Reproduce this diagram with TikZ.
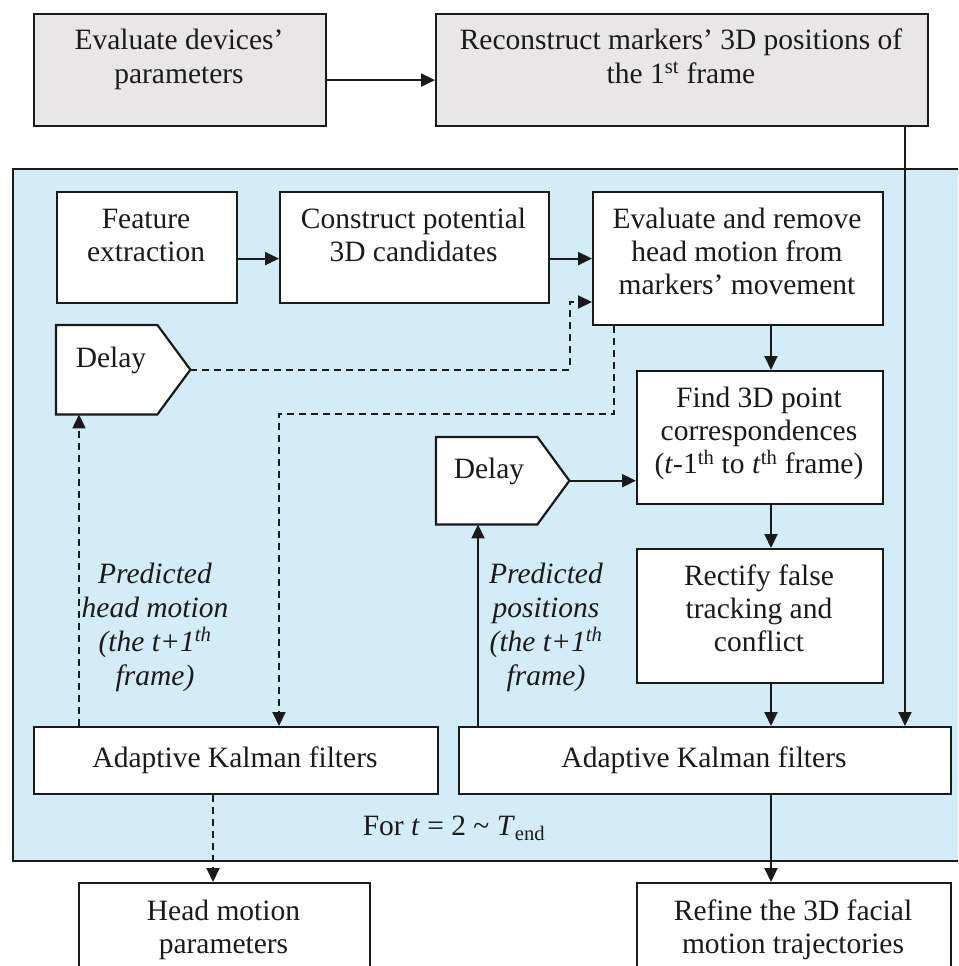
\documentclass[tikz,border=0pt]{standalone}
\usepackage{fontspec}
\setmainfont{Liberation Serif}
\usetikzlibrary{arrows.meta}
\definecolor{grayfill}{HTML}{E8E6E6}
\definecolor{bluefill}{HTML}{D4ECF8}
\definecolor{ink}{HTML}{1A1A1A}
\newcommand{\mlines}[1]{\begin{tabular}[t]{@{}c@{}}#1\end{tabular}}
\begin{document}
\begin{tikzpicture}[x=1pt,y=-1pt,
  box/.style={draw=ink, line width=2.2pt, fill=white, rectangle, inner sep=0pt, anchor=north west},
  graybox/.style={box, fill=grayfill},
  frame/.style={rectangle, inner sep=0pt, anchor=north west},
  txt/.style={anchor=base, inner sep=0pt, text=ink, font=\fontsize{29.5}{33}\selectfont},
  lbl/.style={anchor=base, inner sep=0pt, text=ink, font=\fontsize{29.5}{34}\selectfont\itshape},
  arr/.style={draw=ink, line width=2pt, -{Triangle[length=14pt,width=13pt]}},
  darr/.style={arr, dash pattern=on 7pt off 5pt},
  pent/.style={draw=ink, line width=2.2pt, fill=white, line join=miter}]
\useasboundingbox (0,0) rectangle (958,966);
\clip (0,0) rectangle (958,966);

% loop container
\node[frame, draw=ink, line width=2.2pt, fill=bluefill, minimum width=970pt, minimum height=692pt] (loop) at (12,168) {};

% boxes
\node[graybox, minimum width=292pt, minimum height=112pt] (b1) at (33,13) {};
\node[graybox, minimum width=492pt, minimum height=112pt] (b2) at (435,13) {};
\node[box, minimum width=180pt, minimum height=111pt] (feat) at (56,191) {};
\node[box, minimum width=269pt, minimum height=111pt] (cons) at (279,191) {};
\node[box, minimum width=290pt, minimum height=133pt] (eval) at (592,191) {};
\node[box, minimum width=246pt, minimum height=133pt] (find) at (636,370) {};
\node[box, minimum width=246pt, minimum height=134pt] (rect) at (636,548) {};
\node[box, minimum width=404pt, minimum height=67pt] (kal1) at (33,726) {};
\node[box, minimum width=492pt, minimum height=67pt] (kal2) at (458,726) {};
\node[box, minimum width=291pt, minimum height=140pt] (head) at (78,882) {};
\node[box, minimum width=314pt, minimum height=140pt] (refine) at (636,882) {};

% delay shapes
\node[frame, minimum width=134pt, minimum height=89pt] (d1) at (56,325) {};
\node[frame, minimum width=133pt, minimum height=87pt] (d2) at (436,437) {};
\draw[pent] (d1.north west) -- ([xshift=-33pt]d1.north east) -- (d1.east) -- ([xshift=-33pt]d1.south east) -- (d1.south west) -- cycle;
\draw[pent] (d2.north west) -- ([xshift=-32pt]d2.north east) -- (d2.east) -- ([xshift=-32pt]d2.south east) -- (d2.south west) -- cycle;

% helper coordinates
\coordinate (x905) at (905,0);
\coordinate (x771) at (771,0);
\coordinate (x79) at (79,0);
\coordinate (x478) at (478,0);
\coordinate (x213) at (213,0);
\coordinate (j1) at (570,302);
\coordinate (jA) at (614,414);
\coordinate (jB) at (279,414);

% connectors
\draw[arr] ([yshift=-10pt]b1.east) -- ([yshift=-10pt]b2.west);
\draw[arr] (b2.south -| x905) -- (kal2.north -| x905);
\draw[arr] (feat.east |- eval.west) -- (cons.west |- eval.west);
\draw[arr] (cons.east |- eval.west) -- (eval.west);
\draw[darr] (d1.east) -| (j1) -- (eval.west |- j1);
\draw[darr] (eval.south -| jA) -- (jA) -- (jB) -- (kal1.north -| jB);
\draw[darr] (kal1.north -| x79) -- (d1.south -| x79);
\draw[darr] (kal1.south -| x213) -- (head.north -| x213);
\draw[arr] (eval.south -| x771) -- (find.north -| x771);
\draw[arr] (find.south -| x771) -- (rect.north -| x771);
\draw[arr] (rect.south -| x771) -- (kal2.north -| x771);
\draw[arr] (kal2.south -| x771) -- (refine.north -| x771);
\draw[arr] (d2.east) -- (find.west |- d2.east);
\draw[arr] (kal2.north -| x478) -- (d2.south -| x478);

% texts
\node[txt] (t1) at (179,50) {\mlines{Evaluate devices’\\parameters}};
\node[txt] (t2) at (681,50) {\mlines{Reconstruct markers’ 3D positions of\\the 1\textsuperscript{st} frame}};
\node[txt] (t3) at (146,228) {\mlines{Feature\\extraction}};
\node[txt] (t4) at (413.5,228) {\mlines{Construct potential\\3D candidates}};
\node[txt] (t5) at (737,228) {\mlines{Evaluate and remove\\head motion from\\markers’ movement}};
\node[txt] (t6) at (111,367) {\mlines{Delay}};
\node[txt] (t7) at (759,407) {\mlines{Find 3D point\\correspondences\\(\textit{t}-1\textsuperscript{th} to \textit{t}\textsuperscript{th} frame)}};
\node[txt] (t8) at (489,478) {\mlines{Delay}};
\node[txt] (t9) at (759,585) {\mlines{Rectify false\\tracking and\\conflict}};
\node[txt] (t10) at (235,767) {\mlines{Adaptive Kalman filters}};
\node[txt] (t11) at (704,767) {\mlines{Adaptive Kalman filters}};
\node[txt] (t12) at (223.5,920) {\mlines{Head motion\\parameters}};
\node[txt] (t13) at (793,920) {\mlines{Refine the 3D facial\\motion trajectories}};
\node[lbl] (t14) at (155,583) {\mlines{Predicted\\head motion\\(the t+1\textsuperscript{th}\\frame)}};
\node[lbl] (t15) at (546,583) {\mlines{Predicted\\positions\\(the t+1\textsuperscript{th}\\frame)}};
\node[txt] (t16) at (454,835) {For \textit{t} = 2 \textasciitilde{} \textit{T}\textsubscript{end}};
\end{tikzpicture}
\end{document}
